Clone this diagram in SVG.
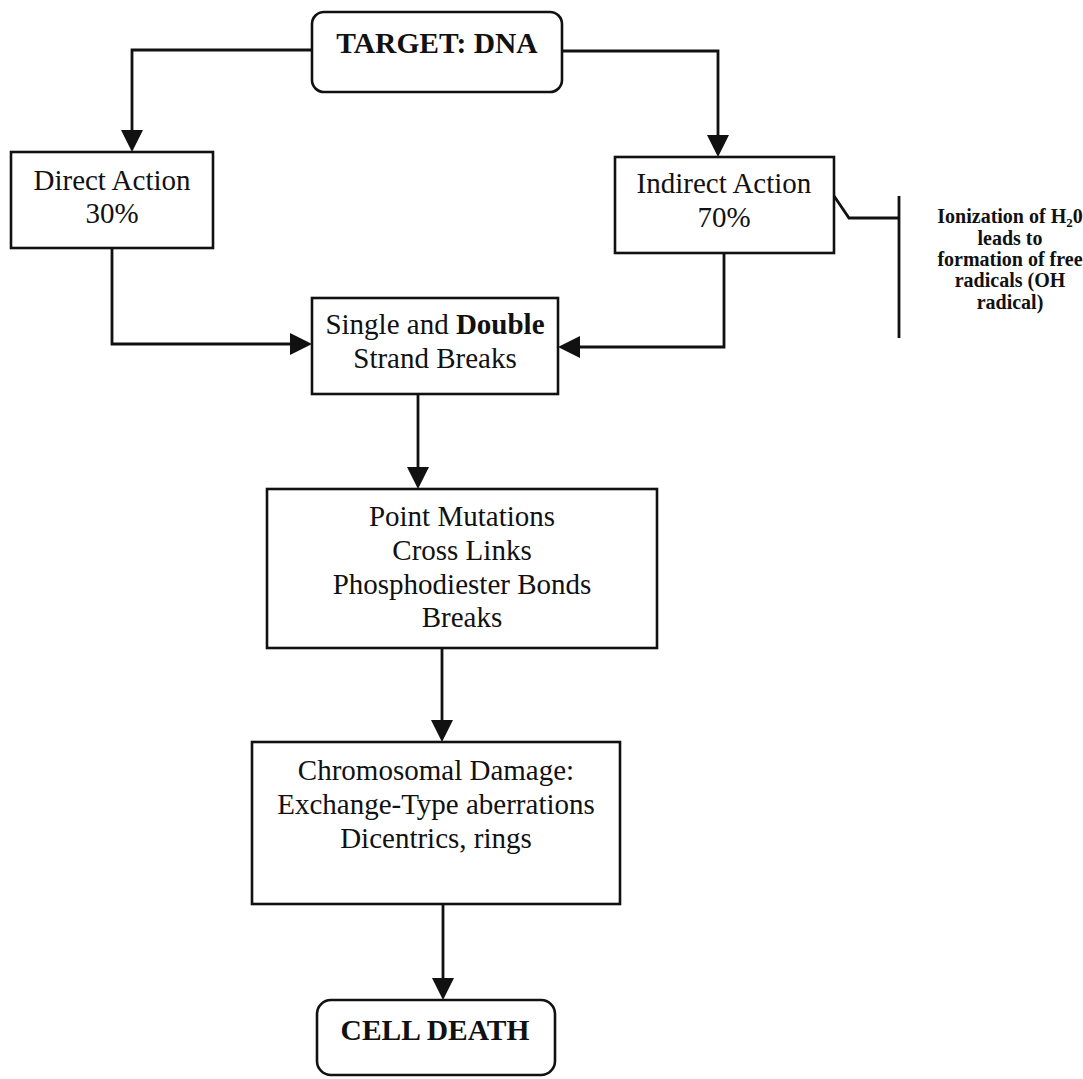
<svg xmlns="http://www.w3.org/2000/svg" width="1083" height="1079" viewBox="0 0 1083 1079">
  <style>
    .box { fill: #ffffff; stroke: #111111; stroke-width: 2.6; }
    .wire { fill: none; stroke: #111111; stroke-width: 2.8; }
    .t { font-family: "Liberation Serif", "Times New Roman", serif; font-size: 29px; fill: #111111; text-anchor: middle; }
    .b { font-weight: bold; }
    .big { font-size: 29.5px; }
    .note { font-family: "Liberation Serif", "Times New Roman", serif; font-size: 20px; font-weight: bold; fill: #111111; text-anchor: middle; }
  </style>
  <defs>
    <marker id="arrow" viewBox="0 0 22 22" refX="2" refY="11" markerWidth="22" markerHeight="22" markerUnits="userSpaceOnUse" orient="auto">
      <path d="M0,0 L22,11 L0,22 z" fill="#111111"/>
    </marker>
  </defs>
  <rect width="1083" height="1079" fill="#ffffff"/>

  <g id="connectors">
    <polyline class="wire" points="312,50 132,50 132,132" marker-end="url(#arrow)"/>
    <polyline class="wire" points="562,51 718,51 718,137" marker-end="url(#arrow)"/>
    <polyline class="wire" points="112,248 112,344 292,344" marker-end="url(#arrow)"/>
    <polyline class="wire" points="724,253 724,347 578,347" marker-end="url(#arrow)"/>
    <line class="wire" x1="418" y1="394" x2="418" y2="469" marker-end="url(#arrow)"/>
    <line class="wire" x1="442" y1="648" x2="442" y2="722" marker-end="url(#arrow)"/>
    <line class="wire" x1="443" y1="904" x2="443" y2="980" marker-end="url(#arrow)"/>
    <polyline class="wire" points="830,190 849,218 899,218"/>
    <line class="wire" x1="899" y1="196" x2="899" y2="338"/>
  </g>

  <g id="target">
    <rect class="box" x="312" y="12" width="250" height="80" rx="12"/>
    <text class="t b big" x="437" y="53">TARGET: DNA</text>
  </g>

  <g id="direct">
    <rect class="box" x="11" y="152" width="202" height="96"/>
    <text class="t" x="112" y="190">Direct Action</text>
    <text class="t" x="112" y="223">30%</text>
  </g>

  <g id="indirect">
    <rect class="box" x="615" y="157" width="219" height="96"/>
    <text class="t" x="724" y="193">Indirect Action</text>
    <text class="t" x="724" y="227">70%</text>
  </g>

  <g id="radicals-note">
    <text class="note" x="1010" y="223">Ionization of H<tspan font-size="13" dy="4">2</tspan><tspan dy="-4">0</tspan></text>
    <text class="note" x="1010" y="245">leads to</text>
    <text class="note" x="1010" y="266">formation of free</text>
    <text class="note" x="1010" y="287">radicals (OH</text>
    <text class="note" x="1010" y="309">radical)</text>
  </g>

  <g id="strand-breaks">
    <rect class="box" x="312" y="298" width="246" height="96"/>
    <text class="t" x="435" y="334">Single and <tspan class="b">Double</tspan></text>
    <text class="t" x="435" y="368">Strand Breaks</text>
  </g>

  <g id="lesions">
    <rect class="box" x="267" y="489" width="390" height="159"/>
    <text class="t" x="462" y="526">Point Mutations</text>
    <text class="t" x="462" y="560">Cross Links</text>
    <text class="t" x="462" y="594">Phosphodiester Bonds</text>
    <text class="t" x="462" y="627">Breaks</text>
  </g>

  <g id="chromosomal">
    <rect class="box" x="252" y="742" width="368" height="162"/>
    <text class="t" x="436" y="780">Chromosomal Damage:</text>
    <text class="t" x="436" y="814">Exchange-Type aberrations</text>
    <text class="t" x="436" y="848">Dicentrics, rings</text>
  </g>

  <g id="cell-death">
    <rect class="box" x="317" y="1000" width="238" height="75" rx="14"/>
    <text class="t b big" x="435" y="1040">CELL DEATH</text>
  </g>
</svg>
